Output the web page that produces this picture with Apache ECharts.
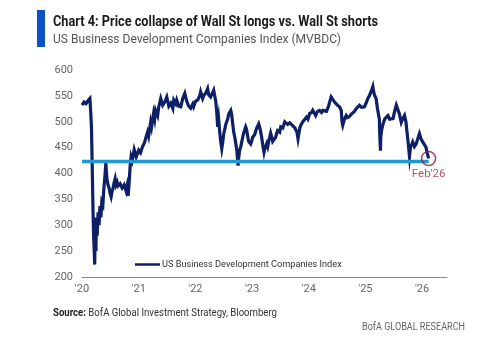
<!DOCTYPE html>
<html>
<head>
<meta charset="utf-8">
<script src="https://cdn.jsdelivr.net/npm/echarts@6/dist/echarts.min.js"></script>
<style>html,body{margin:0;padding:0;background:#fff}#c{width:500px;height:341px}</style>
</head>
<body>
<div id="c"></div>
<script>
// ---- data ----
var seriesName = 'US Business Development Companies Index';
var dates = [
'2020-01-02','2020-01-14','2020-01-27','2020-02-09','2020-02-21','2020-02-26','2020-03-02','2020-03-06','2020-03-12','2020-03-16',
'2020-03-20','2020-03-23','2020-03-27','2020-03-31','2020-04-03','2020-04-08','2020-04-14','2020-04-20','2020-04-26','2020-05-02',
'2020-05-08','2020-05-15','2020-05-21','2020-05-28','2020-06-03','2020-06-10','2020-06-17','2020-06-24','2020-06-30','2020-07-07',
'2020-07-13','2020-07-20','2020-07-26','2020-08-02','2020-08-08','2020-08-15','2020-08-21','2020-09-03','2020-09-16','2020-09-29',
'2020-10-12','2020-10-18','2020-10-25','2020-10-31','2020-11-07','2020-11-13','2020-11-20','2020-12-03','2020-12-16','2020-12-22',
'2021-01-01','2021-01-13','2021-01-26','2021-02-08','2021-02-15','2021-02-27','2021-03-06','2021-03-19','2021-03-25','2021-04-07',
'2021-04-14','2021-04-20','2021-05-03','2021-05-10','2021-05-23','2021-06-05','2021-06-18','2021-07-01','2021-07-14','2021-07-27',
'2021-08-09','2021-08-15','2021-08-28','2021-09-03','2021-09-16','2021-09-29','2021-10-12','2021-10-25','2021-11-06','2021-11-19',
'2021-12-02','2021-12-15','2021-12-21','2022-01-03','2022-01-16','2022-01-29','2022-02-04','2022-02-17','2022-02-23','2022-03-08',
'2022-03-21','2022-03-28','2022-04-09','2022-04-22','2022-04-29','2022-05-05','2022-05-12','2022-05-18','2022-05-25','2022-05-31',
'2022-06-07','2022-06-13','2022-06-20','2022-06-26','2022-07-03','2022-07-16','2022-07-29','2022-08-04','2022-08-17','2022-08-23',
'2022-08-30','2022-09-05','2022-09-12','2022-09-18','2022-09-25','2022-10-03','2022-10-07','2022-10-13','2022-10-20','2022-11-02',
'2022-11-08','2022-11-21','2022-11-27','2022-12-04','2022-12-10','2022-12-23','2022-12-29','2023-01-05','2023-01-18','2023-01-31',
'2023-02-13','2023-02-19','2023-02-26','2023-03-04','2023-03-11','2023-03-19','2023-03-24','2023-04-06','2023-04-12','2023-04-18',
'2023-05-01','2023-05-08','2023-05-14','2023-05-20','2023-06-02','2023-06-09','2023-06-15','2023-06-28','2023-07-05','2023-07-18',
'2023-07-31','2023-08-10','2023-08-19','2023-09-01','2023-09-08','2023-09-21','2023-09-27','2023-10-04','2023-10-10','2023-10-17',
'2023-10-24','2023-10-30','2023-11-06','2023-11-16','2023-11-24','2023-12-07','2023-12-18','2023-12-27','2024-01-07','2024-01-20',
'2024-01-27','2024-02-02','2024-02-08','2024-02-15','2024-02-27','2024-03-11','2024-03-24','2024-04-02','2024-04-12','2024-04-25',
'2024-05-08','2024-05-15','2024-05-25','2024-06-03','2024-06-16','2024-06-27','2024-07-05','2024-07-18','2024-07-29','2024-08-03',
'2024-08-08','2024-08-19','2024-08-30','2024-09-07','2024-09-20','2024-10-03','2024-10-12','2024-10-22','2024-11-02','2024-11-11',
'2024-11-24','2024-12-07','2024-12-16','2024-12-26','2025-01-08','2025-01-17','2025-01-28','2025-02-07','2025-02-18','2025-02-22',
'2025-02-28','2025-03-11','2025-03-20','2025-03-26','2025-04-01','2025-04-04','2025-04-08','2025-04-10','2025-04-16','2025-04-25',
'2025-05-05','2025-05-16','2025-05-26','2025-06-06','2025-06-17','2025-06-28','2025-07-08','2025-07-19','2025-07-29','2025-08-08',
'2025-08-20','2025-08-28','2025-09-10','2025-09-19','2025-10-01','2025-10-12','2025-10-18','2025-11-02','2025-11-13','2025-11-24',
'2025-12-02','2025-12-15','2025-12-24','2026-01-05','2026-01-15','2026-01-26','2026-02-03','2026-02-12'
];
var values = [
532,538,535,541,545,520,490,430,330,280,
250,224,300,250,315,280,325,300,337,315,
345,340,370,395,420,390,378,372,362,355,
365,372,382,390,378,383,376,380,372,378,
366,375,357,380,415,432,425,446,432,430,
445,440,452,460,468,480,472,499,490,516,
505,522,512,528,545,532,538,548,530,536,
526,542,535,542,530,529,545,555,540,530,
526,534,529,540,542,550,558,545,550,555,
564,552,548,556,561,558,540,522,490,505,
480,462,448,460,477,495,506,515,522,514,
495,480,470,473,445,415,430,445,451,470,
478,490,485,472,462,457,462,470,475,488,
496,490,480,470,455,441,448,458,452,461,
478,470,462,461,470,478,483,480,490,488,
500,503,495,498,496,492,495,488,485,480,
467,478,490,496,500,505,509,505,516,518,
522,525,516,512,520,522,518,522,525,520,
530,538,548,545,538,535,532,529,522,500,
493,505,512,508,510,515,516,520,525,522,
532,528,525,529,538,545,551,558,568,560,
552,545,525,515,505,470,444,470,485,496,
505,506,512,505,503,506,520,532,529,515,
499,505,512,500,467,433,450,461,452,457,
465,477,468,461,458,451,440,429
];
var thresholdDates = ['2020-01-01', '2026-02-12'];
var thresholdValue = 423;
var endLabel = "Feb'26";
var yTicks = {min: 200, max: 600, step: 50};
var xYears = {min: 2020, max: 2026.44, step: 1};
var titleText = 'Chart 4: Price collapse of Wall St longs vs. Wall St shorts';
var subtitleText = 'US Business Development Companies Index (MVBDC)';
var sourceLabel = 'Source:';
var sourceText = ' BofA Global Investment Strategy, Bloomberg';
var brandText = 'BofA GLOBAL RESEARCH';

// date string -> decimal year
function toYear(s) {
  var p = s.split('-').map(Number);
  var t = Date.UTC(p[0], p[1] - 1, p[2]);
  var a = Date.UTC(p[0], 0, 1), b = Date.UTC(p[0] + 1, 0, 1);
  return p[0] + (t - a) / (b - a);
}
var mainData = dates.map(function (d, i) { return [toYear(d), values[i]]; });
var thrData = thresholdDates.map(function (d) { return [toYear(d), thresholdValue]; });
var lastPoint = mainData[mainData.length - 1];

// horizontal compression so text widths match the condensed reference font
var ctx = document.createElement('canvas').getContext('2d');
function tw(text, font) { ctx.font = font; return ctx.measureText(text).width; }
function fit(text, font, target) { return target / tw(text, font); }

// legend font: prefer an installed narrow face, size it to the reference width
var narrowOk = tw(seriesName, "11px 'Liberation Sans Narrow', monospace") !== tw(seriesName, "11px monospace");
var legendFamily = narrowOk ? "'Liberation Sans Narrow', Roboto, sans-serif" : "Roboto, sans-serif";
var legendSize = Math.min(11.5, 11 * 180 / tw(seriesName, "11px " + legendFamily));

var fTitle = "bold 14px Roboto, sans-serif";
var fSub = "13.5px Roboto, sans-serif";
var fSrcB = "bold 11.5px Roboto, sans-serif";
var fSrc = "11.5px Roboto, sans-serif";
var fBrand = "11.5px Roboto, sans-serif";
var sTitle = fit(titleText, fTitle, 325);
var sSub = fit(subtitleText, fSub, 288);
var sSrc = 224 / (tw(sourceLabel, fSrcB) + tw(sourceText, fSrc));
var sBrand = fit(brandText, fBrand, 103);

var chart = echarts.init(document.getElementById('c'));
var font = "Roboto, sans-serif";
chart.setOption({
  animation: false,
  backgroundColor: '#ffffff',
  grid: {left: 82, right: 53, top: 70, bottom: 64},
  xAxis: {
    type: 'value', min: xYears.min, max: xYears.max, interval: xYears.step,
    axisLine: {show: true, lineStyle: {color: '#8a8a8a', width: 1}},
    axisTick: {show: false},
    splitLine: {show: false},
    axisLabel: {
      color: '#666', fontSize: 11, fontFamily: font, margin: 7, showMaxLabel: false,
      formatter: function (v) { return Math.abs(v - Math.round(v)) < 1e-6 ? "'" + String(Math.round(v)).slice(2) : ''; }
    }
  },
  yAxis: {
    type: 'value', min: yTicks.min, max: yTicks.max, interval: yTicks.step,
    axisLine: {show: false}, axisTick: {show: false}, splitLine: {show: false},
    axisLabel: {color: '#666', fontSize: 11, fontFamily: font, margin: 9}
  },
  legend: {
    data: [seriesName], left: 130, top: 255, itemWidth: 25, itemHeight: 2.5, icon: 'rect',
    itemGap: 4, textStyle: {color: '#333', fontSize: legendSize, fontFamily: legendFamily, padding: [0, 0, 0, -3]}
  },
  series: [
    {
      name: seriesName, type: 'line', data: mainData, showSymbol: false, z: 2,
      lineStyle: {color: '#0d1f66', width: 3.2, join: 'miter'}, itemStyle: {color: '#0d1f66'}
    },
    {
      name: 'threshold', type: 'line', data: thrData, showSymbol: false, z: 3,
      lineStyle: {color: '#1d9ad6', width: 3.5}, itemStyle: {color: '#1d9ad6'}
    },
    {
      name: 'end', type: 'scatter', data: [lastPoint], z: 4,
      symbol: 'circle', symbolSize: 14,
      itemStyle: {color: 'rgba(0,0,0,0)', borderColor: '#a3153a', borderWidth: 1.6},
      label: {show: true, position: 'bottom', distance: 2, formatter: endLabel, color: '#a0283f', fontSize: 11.5, fontFamily: font}
    }
  ],
  graphic: [
    {type: 'rect', shape: {x: 37, y: 10, width: 8, height: 37}, style: {fill: '#0b50c8'}},
    {type: 'text', x: 53, y: 15, scaleX: sTitle, style: {text: titleText, fill: '#1a1a1a', font: fTitle}},
    {type: 'text', x: 53, y: 33, scaleX: sSub, style: {text: subtitleText, fill: '#555', font: fSub}},
    {type: 'text', x: 53, y: 307, scaleX: sSrc, style: {
      text: '{b|' + sourceLabel + '}' + sourceText,
      rich: {b: {font: fSrcB, fill: '#222'}},
      fill: '#333', font: fSrc}},
    {type: 'text', x: 362, y: 321, scaleX: sBrand, style: {text: brandText, fill: '#666', font: fBrand}}
  ]
});
</script>
</body>
</html>
